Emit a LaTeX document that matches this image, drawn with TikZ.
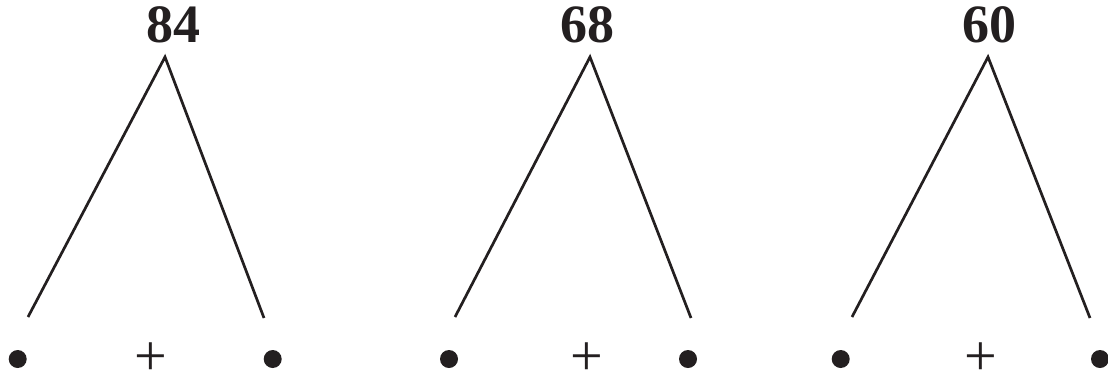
\documentclass[tikz,border=0pt]{standalone}
\usepackage{fontspec}
\setmainfont{Liberation Serif}
\definecolor{ink}{HTML}{231F20}
\begin{document}
\begin{tikzpicture}[x=1pt,y=-1pt,
  numlabel/.style={anchor=base,inner sep=0pt,text=ink,font=\fontsize{54}{60}\selectfont\bfseries},
  plussign/.style={anchor=center,inner sep=0pt,text=ink,scale=2,transform shape,font=\fontsize{29}{32}\selectfont},
  dot/.style={circle,fill=ink,draw=none,minimum size=18pt,inner sep=0pt},
  branch/.style={draw=ink,line width=2.7pt}]
\useasboundingbox (0,0) rectangle (1108,376);
% tree 1
\node[numlabel] (n1) at (173,42) {84};
\coordinate (a1) at (165,57);
\coordinate (l1) at (28,317);
\coordinate (r1) at (264,318);
\draw[branch] (l1) -- (a1) -- (r1);
\node[dot] (d1l) at (17.7,359) {};
\node[dot] (d1r) at (272.7,359) {};
\node[plussign] (p1) at (151,359.5) {+};
% tree 2
\node[numlabel] (n2) at (587,42) {68};
\coordinate (a2) at (590,57);
\coordinate (l2) at (455,317);
\coordinate (r2) at (691,318);
\draw[branch] (l2) -- (a2) -- (r2);
\node[dot] (d2l) at (449,359) {};
\node[dot] (d2r) at (688,359) {};
\node[plussign] (p2) at (587,359.5) {+};
% tree 3
\node[numlabel] (n3) at (989,42) {60};
\coordinate (a3) at (988,57);
\coordinate (l3) at (852,317);
\coordinate (r3) at (1090,318);
\draw[branch] (l3) -- (a3) -- (r3);
\node[dot] (d3l) at (840.7,359) {};
\node[dot] (d3r) at (1100,359) {};
\node[plussign] (p3) at (981,359.5) {+};
\end{tikzpicture}
\end{document}
